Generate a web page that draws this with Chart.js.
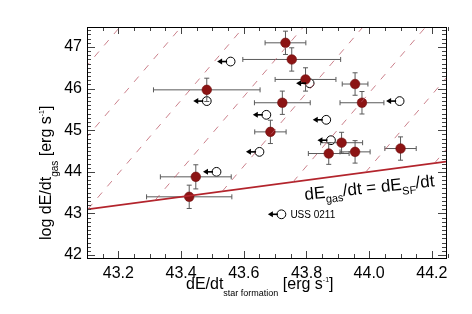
<!DOCTYPE html>
<html>
<head>
<meta charset="utf-8">
<script src="https://cdn.jsdelivr.net/npm/chart.js@4.4.0/dist/chart.umd.min.js"></script>
<style>
  html, body { margin: 0; padding: 0; background: #fff; }
  #wrap { width: 472px; height: 314px; }
</style>
</head>
<body>
<div id="wrap"><canvas id="c"></canvas></div>
<script>
// Axis ticks
const xTicks = [43.2, 43.4, 43.6, 43.8, 44.0, 44.2];
const yTicks = [42, 43, 44, 45, 46, 47];

// Detections (filled circles with error bars)
const detX    = [43.733, 43.753, 43.797, 43.955, 43.482, 43.723, 43.977, 43.685, 43.912, 43.871, 43.955, 44.100, 43.447, 43.426];
const detY    = [47.10, 46.70, 46.22, 46.11, 45.97, 45.66, 45.66, 44.96, 44.70, 44.44, 44.48, 44.56, 43.88, 43.40];
const detXErr = [0.065, 0.156, 0.097, 0.041, 0.170, 0.089, 0.070, 0.050, 0.067, 0.065, 0.048, 0.050, 0.113, 0.136];
const detYErr = [0.28, 0.28, 0.28, 0.27, 0.28, 0.28, 0.27, 0.28, 0.25, 0.26, 0.27, 0.28, 0.29, 0.28];

// Upper limits on star formation (open circles, arrow to the left)
const limX = [43.558, 43.482, 43.810, 44.097, 43.672, 43.863, 43.650, 43.878, 43.513, 43.720];
const limY = [46.65, 45.70, 46.13, 45.70, 45.37, 45.25, 44.48, 44.76, 44.00, 42.98];
const limNames = ['', '', '', '', '', '', '', '', '', 'USS 0211'];

// Equality line and dashed lines (x where each dashed line hits the top, common slope)
const equalX = [43.0, 44.4];
const dashTopX = [43.205, 43.40, 43.60, 43.79, 43.98, 44.18, 44.385, 44.58];
const dashSlope = 8.8;
const yTop = 47.48;

const FONT = "'Liberation Sans', Arial, Helvetica, sans-serif";

// dashed line: starts on y = x, climbs with dashSlope
function dashLine(x0) {
  const xs = (dashSlope * x0 - yTop) / (dashSlope - 1);
  const yEnd = 48;
  return [{ x: xs, y: xs }, { x: xs + (yEnd - xs) / dashSlope, y: yEnd }];
}

const datasets = [];
dashTopX.forEach(x0 => {
  datasets.push({
    data: dashLine(x0),
    showLine: true,
    borderColor: 'rgba(185, 85, 100, 0.75)',
    borderWidth: 1,
    borderDash: [7, 8],
    pointRadius: 0
  });
});
datasets.push({
  data: equalX.map(v => ({ x: v, y: v })),
  showLine: true,
  borderColor: '#b3242c',
  borderWidth: 1.8,
  pointRadius: 0
});
datasets.push({
  data: detX.map((x, i) => ({ x: x, y: detY[i] })),
  pointRadius: 4.8,
  pointBackgroundColor: '#8c1414',
  pointBorderColor: '#6e0d0d',
  pointBorderWidth: 0.6
});
datasets.push({
  data: limX.map((x, i) => ({ x: x, y: limY[i] })),
  pointRadius: 4.4,
  pointBackgroundColor: '#ffffff',
  pointBorderColor: '#000000',
  pointBorderWidth: 1
});
const DET = datasets.length - 2;

function drawPieces(ctx, pieces, x, y) {
  pieces.forEach(p => {
    ctx.font = p.size + 'px ' + FONT;
    ctx.fillText(p.t, x, y + (p.dy || 0));
    x += ctx.measureText(p.t).width;
  });
}

const errorBars = {
  id: 'errorBars',
  beforeDatasetDraw(chart, args) {
    if (args.index !== DET) return;
    const ctx = chart.ctx, xs = chart.scales.x, ys = chart.scales.y;
    ctx.save();
    ctx.strokeStyle = '#5a5a5a';
    ctx.lineWidth = 1;
    const cap = 2.5;
    detX.forEach((x, i) => {
      const px = xs.getPixelForValue(x), py = ys.getPixelForValue(detY[i]);
      const x1 = xs.getPixelForValue(x - detXErr[i]), x2 = xs.getPixelForValue(x + detXErr[i]);
      const y1 = ys.getPixelForValue(detY[i] + detYErr[i]), y2 = ys.getPixelForValue(detY[i] - detYErr[i]);
      ctx.beginPath();
      ctx.moveTo(x1, py); ctx.lineTo(x2, py);
      ctx.moveTo(x1, py - cap); ctx.lineTo(x1, py + cap);
      ctx.moveTo(x2, py - cap); ctx.lineTo(x2, py + cap);
      ctx.moveTo(px, y1); ctx.lineTo(px, y2);
      ctx.moveTo(px - cap, y1); ctx.lineTo(px + cap, y1);
      ctx.moveTo(px - cap, y2); ctx.lineTo(px + cap, y2);
      ctx.stroke();
    });
    ctx.restore();
  }
};

const limitArrows = {
  id: 'limitArrows',
  afterDatasetsDraw(chart) {
    const ctx = chart.ctx, xs = chart.scales.x, ys = chart.scales.y;
    ctx.save();
    ctx.strokeStyle = '#000';
    ctx.fillStyle = '#000';
    ctx.lineWidth = 1.6;
    limX.forEach((x, i) => {
      const px = xs.getPixelForValue(x) - 3.5, py = ys.getPixelForValue(limY[i]);
      ctx.beginPath();
      ctx.moveTo(px, py); ctx.lineTo(px - 6, py);
      ctx.stroke();
      ctx.beginPath();
      ctx.moveTo(px - 10, py); ctx.lineTo(px - 5, py - 3); ctx.lineTo(px - 5, py + 3);
      ctx.closePath(); ctx.fill();
      if (limNames[i]) {
        ctx.font = '10px ' + FONT;
        ctx.textBaseline = 'middle';
        ctx.fillText(limNames[i], px + 12.5, py + 0.5);
      }
    });
    ctx.restore();
  }
};

const frame = {
  id: 'frame',
  afterDraw(chart) {
    const ctx = chart.ctx, a = chart.chartArea, xs = chart.scales.x, ys = chart.scales.y;
    ctx.save();
    ctx.strokeStyle = '#444';
    ctx.lineWidth = 1;
    ctx.beginPath();
    for (let k = 0; k <= 23; k++) {
      const v = 43.1 + k * 0.05;
      const px = Math.round(xs.getPixelForValue(v)) + 0.5;
      const len = (Math.round(v * 100) % 20 === 0) ? 7 : 4;
      ctx.moveTo(px, a.bottom); ctx.lineTo(px, a.bottom - len);
      ctx.moveTo(px, a.top); ctx.lineTo(px, a.top + len);
    }
    for (let k = 0; k <= 54; k++) {
      const v = 42.0 + k * 0.1;
      const py = Math.round(ys.getPixelForValue(v)) + 0.5;
      const len = (k % 10 === 0) ? 8 : 4;
      ctx.moveTo(a.left, py); ctx.lineTo(a.left + len, py);
      ctx.moveTo(a.right, py); ctx.lineTo(a.right - len, py);
    }
    ctx.stroke();
    ctx.strokeStyle = '#000';
    ctx.strokeRect(Math.round(a.left) + 0.5, Math.round(a.top) + 0.5,
                   Math.round(a.right - a.left), Math.round(a.bottom - a.top));

    ctx.fillStyle = '#000';
    ctx.textBaseline = 'alphabetic';
    // x title
    drawPieces(ctx, [
      { t: 'dE/dt', size: 16 },
      { t: 'star formation', size: 9, dy: 7 },
      { t: ' [erg s', size: 16 },
      { t: '-1', size: 7, dy: -7 },
      { t: ']', size: 16 }
    ], 186, 289);
    // y title
    ctx.save();
    ctx.translate(51, 240);
    ctx.rotate(-Math.PI / 2);
    drawPieces(ctx, [
      { t: 'log dE/dt', size: 16 },
      { t: 'gas', size: 10, dy: 7 },
      { t: ' [erg s', size: 16 },
      { t: '-1', size: 7, dy: -7 },
      { t: ']', size: 16 }
    ], 0, 0);
    ctx.restore();
    // equality label
    ctx.save();
    ctx.translate(305, 200);
    ctx.rotate(-6 * Math.PI / 180);
    drawPieces(ctx, [
      { t: 'dE', size: 17 },
      { t: 'gas', size: 11, dy: 5 },
      { t: '/dt = dE', size: 17 },
      { t: 'SF', size: 11, dy: 5 },
      { t: '/dt', size: 17 }
    ], 0, 0);
    ctx.restore();
    ctx.restore();
  }
};

new Chart(document.getElementById('c'), {
  type: 'scatter',
  data: { datasets: datasets },
  options: {
    responsive: true,
    maintainAspectRatio: false,
    animation: false,
    layout: { padding: { top: 27, right: 26, left: 0, bottom: 0 } },
    plugins: { legend: { display: false }, tooltip: { enabled: false } },
    scales: {
      x: {
        type: 'linear',
        min: 43.1,
        max: 44.245,
        afterBuildTicks: s => { s.ticks = xTicks.map(v => ({ value: v })); },
        afterFit: s => { s.height = 56; },
        grid: { display: false, drawTicks: false },
        border: { display: false },
        ticks: {
          callback: v => v.toFixed(1),
          color: '#000',
          font: { family: FONT, size: 16 },
          padding: 6,
          maxRotation: 0,
          autoSkip: false
        }
      },
      y: {
        type: 'linear',
        min: 41.93,
        max: 47.48,
        afterBuildTicks: s => { s.ticks = yTicks.map(v => ({ value: v })); },
        afterFit: s => { s.width = 87; },
        grid: { display: false, drawTicks: false },
        border: { display: false },
        ticks: {
          callback: v => String(v),
          color: '#000',
          font: { family: FONT, size: 16 },
          padding: 5
        }
      }
    }
  },
  plugins: [errorBars, limitArrows, frame]
});
</script>
</body>
</html>
